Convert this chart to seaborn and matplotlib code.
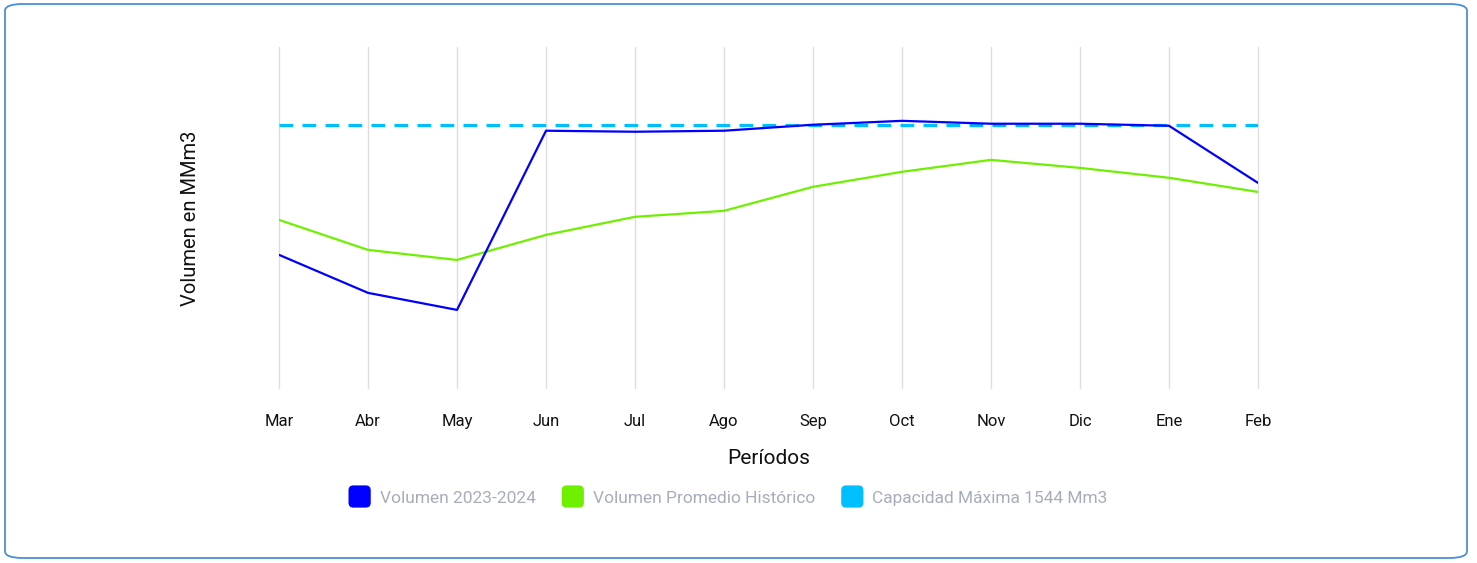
import numpy as np
import pandas as pd
import matplotlib
matplotlib.use("Agg")
import matplotlib.pyplot as plt
import matplotlib.patches as mpatches
from matplotlib.legend_handler import HandlerPatch
import seaborn as sns

meses = ["Mar", "Abr", "May", "Jun", "Jul", "Ago", "Sep", "Oct", "Nov", "Dic", "Ene", "Feb"]
volumen_2324 = [781, 558, 458, 1509, 1503, 1509, 1544, 1567, 1550, 1550, 1538, 1203]
volumen_hist = [986, 810, 751, 898, 1004, 1039, 1180, 1268, 1338, 1291, 1233, 1150]
capacidad = [1544] * 12

series = ["Volumen 2023-2024", "Volumen Promedio Histórico", "Capacidad Máxima 1544 Mm3"]
colores = ["#0000ff", "#6ff000", "#00bfff"]

df = pd.DataFrame({"mes": meses, series[0]: volumen_2324, series[1]: volumen_hist, series[2]: capacidad})
df["x"] = range(len(meses))
largo = df.melt(id_vars=["mes", "x"], var_name="serie", value_name="valor")

sns.set_style("white")
plt.rcParams["font.family"] = ["Roboto", "DejaVu Sans"]

fig = plt.figure(figsize=(14.77, 5.63), dpi=100)
ax = fig.add_axes([279 / 1477, 1 - 388 / 563, (1258 - 279) / 1477, (388 - 47) / 563])

# bordes redondeados del contenedor
borde = mpatches.FancyBboxPatch((5 / 1477, 5 / 563), 1462 / 1477, 554 / 563,
                                boxstyle="round,pad=0,rounding_size=0.012",
                                transform=fig.transFigure, facecolor="none",
                                edgecolor="#4a8fd6", linewidth=1.3, zorder=-1)
fig.patches.append(borde)

for i in range(len(meses)):
    ax.axvline(i, color="#dddddd", linewidth=1, zorder=0, clip_on=False)

sns.lineplot(data=largo[largo.serie == series[1]], x="x", y="valor", color=colores[1],
             linewidth=1.6, ax=ax, legend=False, zorder=2)
sns.lineplot(data=largo[largo.serie == series[2]], x="x", y="valor", color=colores[2],
             linewidth=2.3, ax=ax, legend=False, zorder=3, dashes=False)
ax.lines[-1].set_dashes((4.3, 2.9))
sns.lineplot(data=largo[largo.serie == series[0]], x="x", y="valor", color=colores[0],
             linewidth=1.6, ax=ax, legend=False, zorder=4)

ax.set_xlim(0, 11)
ax.set_ylim(0, 2000)
ax.set_xticks(range(len(meses)))
ax.set_xticklabels(meses, fontsize=12, color="#111111")
ax.set_yticks([])
ax.set_ylabel("")
ax.tick_params(axis="x", length=0, pad=19)
for s in ax.spines.values():
    s.set_visible(False)

ax.set_xlabel("Períodos", fontsize=15, color="#111111", labelpad=14)
fig.text(190 / 1477, 1 - 218 / 563, "Volumen en MMm3", rotation=90, fontsize=14.5,
         color="#111111", ha="center", va="center")


def caja_redonda(legend, orig_handle, xdescent, ydescent, width, height, fontsize):
    lado = 16
    return mpatches.FancyBboxPatch((xdescent + (width - lado) / 2, ydescent + (height - lado) / 2),
                                   lado, lado, boxstyle="round,pad=0,rounding_size=3.5")


handles = [mpatches.Patch(facecolor=c, edgecolor="none", label=s) for s, c in zip(series, colores)]
leg = fig.legend(handles=handles, loc="center", bbox_to_anchor=(728 / 1477, 1 - 498 / 563),
                 ncol=3, frameon=False, fontsize=12.5, handlelength=1.3, handletextpad=0.5,
                 columnspacing=1.5, handler_map={mpatches.Patch: HandlerPatch(patch_func=caja_redonda)})
for t in leg.get_texts():
    t.set_color("#a7adbb")

fig.savefig("out.png", dpi=100)
